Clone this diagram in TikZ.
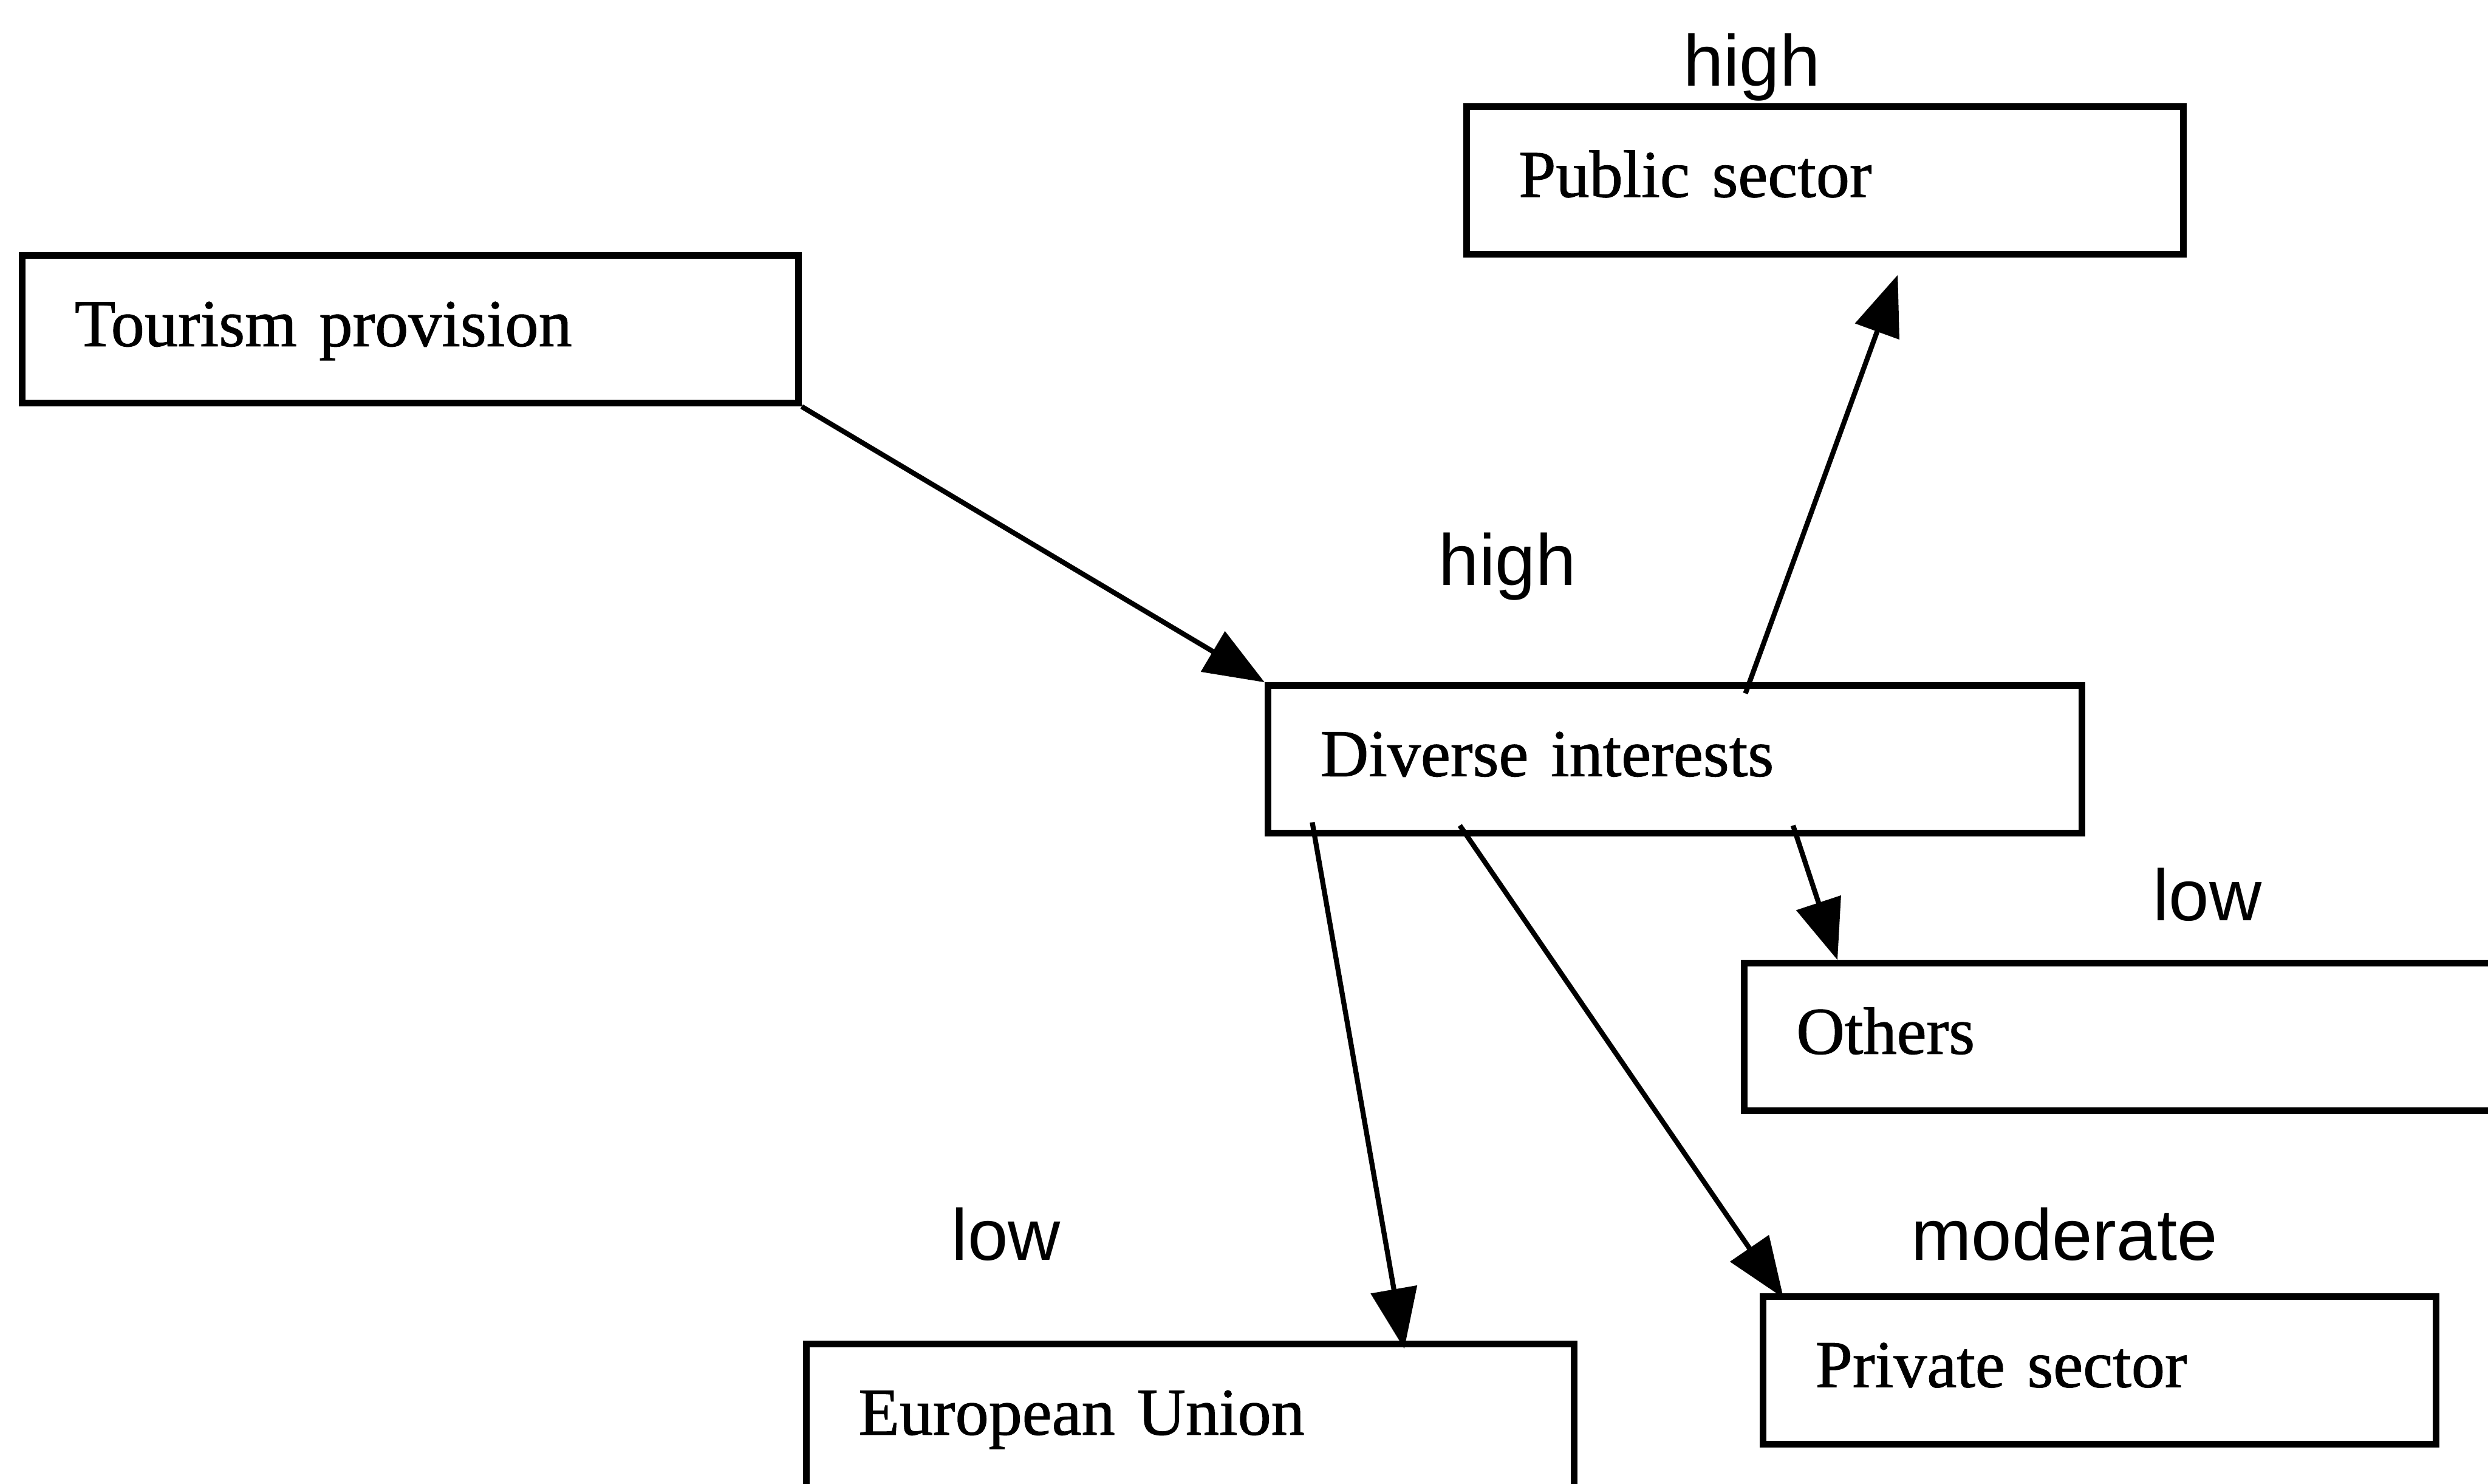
\documentclass[tikz,border=0pt]{standalone}
\usepackage{fontspec}
\setmainfont{Liberation Serif}
\newfontfamily\boxfont[FakeBold=1]{Liberation Serif}
\newfontfamily\lblfont{Liberation Sans}
\usetikzlibrary{arrows.meta}

\begin{document}
\begin{tikzpicture}[box/.style = {draw, rectangle, line width=1.2pt, anchor=north west, minimum height=0.93cm, inner xsep=0.33cm, inner ysep=0pt, align=left, text height=0.28cm, text depth=0.07cm, font=\boxfont\fontsize{12}{14}\selectfont}, lbl/.style = {anchor=base, inner sep=0pt, font=\lblfont\fontsize{13}{15}\selectfont}, arr/.style = {line width=0.9pt, -{Triangle[length=0.38cm,width=0.29cm]}}]
\useasboundingbox (0,0) rectangle (15.68,9.35);
\clip (0,0) rectangle (15.68,9.35);
\node[box, text width=4.23cm] (tour) at (0.12,7.76) {Tourism provision};
\node[box, text width=3.86cm] (pub) at (9.22,8.70) {Public sector};
\node[box, text width=4.47cm] (div) at (7.97,5.05) {Diverse interests};
\node[box, text width=4.34cm] (oth) at (10.97,3.30) {Others};
\node[box, text width=3.58cm] (priv) at (11.09,1.20) {Private sector};
\node[box, text width=4.18cm] (eu) at (5.06,0.90) {European Union};
\node[lbl] (l1) at (11.04,8.81) {high};
\node[lbl] (l2) at (9.50,5.66) {high};
\node[lbl] (l3) at (13.91,3.55) {low};
\node[lbl] (l4) at (6.34,1.41) {low};
\node[lbl] (l5) at (13.01,1.41) {moderate};
\draw[arr] (tour.south east) -- (div.north west);
\draw[arr] ([xshift=3.03cm,yshift=-0.07cm]div.north west) -- ([xshift=2.74cm,yshift=-0.11cm]pub.south west);
\draw[arr] ([xshift=3.33cm,yshift=0.07cm]div.south west) -- ([xshift=0.61cm]oth.north west);
\draw[arr] ([xshift=1.23cm,yshift=0.07cm]div.south west) -- ([xshift=0.15cm,yshift=-0.03cm]priv.north west);
\draw[arr] ([xshift=0.30cm,yshift=0.09cm]div.south west) -- ([xshift=3.79cm,yshift=-0.05cm]eu.north west);
\end{tikzpicture}
\end{document}
